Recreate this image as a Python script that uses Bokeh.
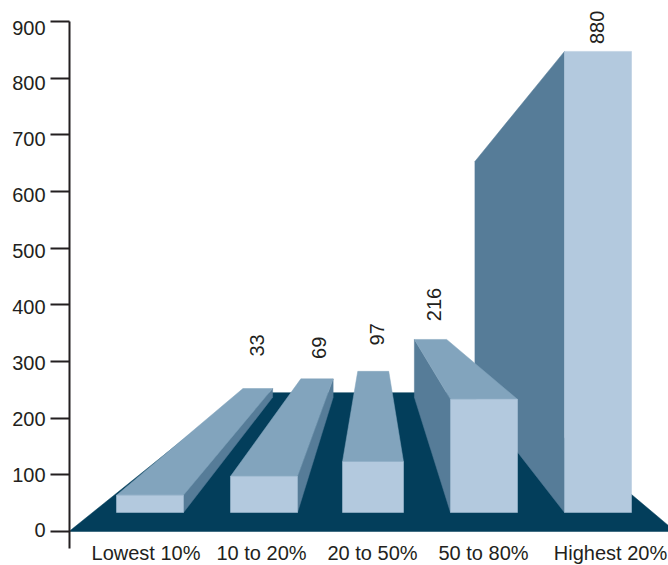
import math

from bokeh.core.properties import value
from bokeh.embed import file_html
from bokeh.models import ColumnDataSource, FixedTicker, LinearAxis, Range1d
from bokeh.plotting import figure
from bokeh.resources import INLINE

# Chart data
categories = ["Lowest 10%", "10 to 20%", "20 to 50%", "50 to 80%", "Highest 20%"]
values = [33, 69, 97, 216, 880]
value_labels = ["33", "69", "97", "216", "880"]
tick_values = [0, 100, 200, 300, 400, 500, 600, 700, 800, 900]
tick_labels = ["0", "100", "200", "300", "400", "500", "600", "700", "800", "900"]

# Layout of the bars on the floor, in horizontal canvas units
bar_left = [116, 230, 342, 450, 564]
bar_width = [67, 67, 61, 67, 67]
category_x = [145.5, 261, 372, 483, 610]
label_x = [256, 318, 376, 433, 596]
label_gap = [43, 31, 37, 35, 24]

WIDTH, HEIGHT = 668, 565
AXIS_X = 68.5
ZERO_PX = 531.0
UNIT = 510.0 / 900.0      # canvas pixels per value unit on the axis

# Perspective of the floor
VANISH_X = 373.0
DEPTH_NEAR = 0.531        # horizontal shrink of a bar's edge nearest the vanishing point
DEPTH_FAR = 0.508         # horizontal shrink of its edge farthest from it
DEPTH_Y = 0.5116          # vertical shrink from front to back
BACK_SHIFT = 219.6        # vertical lift of the back plane, in value units
FRONT_BASE = 33.5         # where the bars' front faces stand, in value units
FRONT_GAIN = 0.9247       # front-face height per value unit

FLOOR_BACK = 245.0
FLOOR_X = [AXIS_X, 241, 510, 675]
FLOOR_Y = [0, FLOOR_BACK, FLOOR_BACK, 0]

FLOOR = "#033e5b"
FRONT = "#b3c9de"
TOP = "#82a4bd"
SIDE = "#567c98"
INK = "#231f20"
FONT = value("Liberation Sans")


def back_x(x, depth):
    return VANISH_X + (x - VANISH_X) * depth


def back_y(y):
    return BACK_SHIFT + DEPTH_Y * y


p = figure(
    width=WIDTH, height=HEIGHT,
    x_range=Range1d(0, WIDTH),
    y_range=Range1d(-(HEIGHT - ZERO_PX) / UNIT, ZERO_PX / UNIT),
    output_backend="svg", toolbar_location=None,
    x_axis_type=None, y_axis_type=None,
    min_border=0, outline_line_color=None,
)
p.grid.visible = False

p.patch(FLOOR_X, FLOOR_Y, fill_color=FLOOR, line_color=FLOOR, line_width=0.5)

# Bars are painted right to left so the nearer, shorter ones overlap the tall one.
# A side face shows toward the vanishing point; a top face only below the horizon.
for left, w, v in reversed(list(zip(bar_left, bar_width, values))):
    right = left + w
    top = FRONT_BASE + v * FRONT_GAIN
    if left > VANISH_X:
        bl, br = back_x(left, DEPTH_NEAR), back_x(right, DEPTH_FAR)
    elif right < VANISH_X:
        bl, br = back_x(left, DEPTH_FAR), back_x(right, DEPTH_NEAR)
    else:
        bl, br = back_x(left, DEPTH_FAR), back_x(right, DEPTH_FAR)
    bt, bb = back_y(top), back_y(FRONT_BASE)
    if left > VANISH_X:
        p.patch([left, bl, bl, left], [FRONT_BASE, bb, bt, top],
                fill_color=SIDE, line_color=SIDE, line_width=0.5)
    elif right < VANISH_X:
        p.patch([right, br, br, right], [FRONT_BASE, bb, bt, top],
                fill_color=SIDE, line_color=SIDE, line_width=0.5)
    if bt > top:
        p.patch([left, bl, br, right], [top, bt, bt, top],
                fill_color=TOP, line_color=TOP, line_width=0.5)
    p.patch([left, right, right, left], [FRONT_BASE, FRONT_BASE, top, top],
            fill_color=FRONT, line_color=FRONT, line_width=0.5)

# Value axis, with its tick labels set as text so they can sit on their own rhythm
axis = LinearAxis(
    fixed_location=AXIS_X,
    ticker=FixedTicker(ticks=tick_values),
    bounds=(-30, 900),
    axis_line_color=INK, axis_line_width=2,
    major_tick_line_color=INK, major_tick_line_width=2,
    major_tick_in=0, major_tick_out=19,
    minor_tick_line_color=None,
    major_label_overrides={t: "" for t in tick_values},
)
p.add_layout(axis, "left")

tick_src = ColumnDataSource(dict(
    x=[45] * len(tick_values),
    y=[t * 0.986 + 1.8 for t in tick_values],
    text=tick_labels,
))
p.text("x", "y", text="text", source=tick_src, text_font=FONT,
       text_font_size="20px", text_color=INK, text_align="right",
       text_baseline="middle")

cat_src = ColumnDataSource(dict(
    x=category_x, y=[-38] * len(categories), text=categories,
))
p.text("x", "y", text="text", source=cat_src, text_font=FONT,
       text_font_size="20px", text_color=INK, text_align="center",
       text_baseline="middle")

# Value labels stand above each bar's top face, reading upward
label_y = []
for i, v in enumerate(values):
    top = FRONT_BASE + v * FRONT_GAIN
    anchor = top if i == len(values) - 1 else back_y(top)
    label_y.append(anchor + label_gap[i] / UNIT)
val_src = ColumnDataSource(dict(x=label_x, y=label_y, text=value_labels))
p.text("x", "y", text="text", source=val_src, text_font=FONT,
       text_font_size="20px", text_color=INK, text_align="center",
       text_baseline="middle", angle=math.pi / 2)

open("out.html", "w").write(file_html(p, INLINE))
